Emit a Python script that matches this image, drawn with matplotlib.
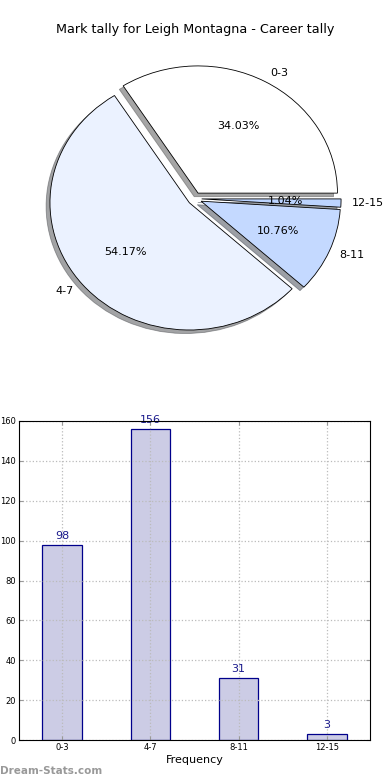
import matplotlib
matplotlib.use("Agg")
import matplotlib.pyplot as plt

categories = ["0-3", "4-7", "8-11", "12-15"]
counts = [98, 156, 31, 3]
pie_colors = ["#ffffff", "#ebf2ff", "#c4d9ff", "#bcd4ff"]
title = "Mark tally for Leigh Montagna - Career tally"

fig = plt.figure(figsize=(3.9, 7.8), dpi=100)

# pie is slightly squashed in the original: rx ~139 px, ry ~127 px
lim = 1.4
rx, ry = 139.4, 127.2
cx, cy = 194.7, 780 - 198.7
w, h = 2 * lim * rx, 2 * lim * ry
ax1 = fig.add_axes([(cx - w / 2) / 390, (cy - h / 2) / 780, w / 390, h / 780])
wedges, texts, autotexts = ax1.pie(
    counts, labels=categories, colors=pie_colors, autopct="%.2f%%",
    explode=[0.05] * 4, shadow=True, startangle=0, counterclock=True,
    labeldistance=1.08,
    wedgeprops={"edgecolor": "black", "linewidth": 0.6},
    textprops={"fontsize": 8},
)
ax1.set_aspect("auto")
ax1.set_xlim(-lim, lim)
ax1.set_ylim(-lim, lim)
ax1.axis("off")
fig.text(0.5, 1 - 30 / 780, title, ha="center", va="center", fontsize=9.2)

# bars
ax2 = fig.add_axes([19 / 390, 40 / 780, 351 / 390, 319 / 780])
x = list(range(len(categories)))
ax2.bar(x, counts, width=0.45, color="#ccccE5", edgecolor="#00008b", linewidth=0.9, zorder=1)
for xi, v in zip(x, counts):
    ax2.text(xi, v + 2, str(v), ha="center", va="bottom", fontsize=8, color="#1a1a8c")
ax2.set_xlim(-0.49, 3.49)
ax2.set_ylim(0, 160)
ax2.set_xticks(x)
ax2.set_xticklabels(categories)
ax2.set_yticks(range(0, 161, 20))
ax2.tick_params(labelsize=6, length=3, direction="in", pad=2, top=True, right=True, color="#999999")
ax2.grid(True, linestyle=":", color="#bbbbbb", linewidth=0.9)
ax2.set_axisbelow(False)
for spine in ax2.spines.values():
    spine.set_zorder(4)
ax2.set_xlabel("Frequency", fontsize=8, labelpad=2)

fig.text(0.0, 1 - 771 / 780, "Dream-Stats.com", ha="left", va="center",
         fontsize=7.5, color="#999999", fontweight="bold")

fig.savefig("out.png", dpi=100)
